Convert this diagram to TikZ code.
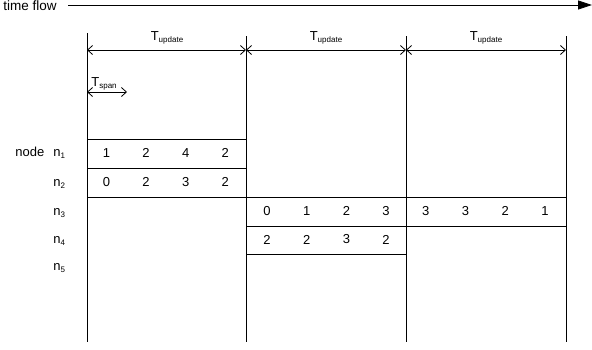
\documentclass[tikz,border=0pt]{standalone}
\usepackage{fontspec}
\setmainfont{Liberation Sans}
\usetikzlibrary{arrows.meta}
\newcommand{\mysub}[1]{\raisebox{-2.2pt}{\fontsize{8}{9}\selectfont #1}}
\begin{document}
\begin{tikzpicture}[x=1pt,y=-1pt,line width=0.8pt,
  barb/.style={Straight Barb[length=5pt,width=9pt]},
  txt/.style={font=\fontsize{13}{15}\selectfont,inner sep=0pt},
  lbl/.style={txt,anchor=base west},
  num/.style={txt,anchor=center},
  cell/.style={draw,line width=0.8pt}]
\useasboundingbox (0,0) rectangle (592,349);
% time flow
\node[font=\fontsize{13.5}{16}\selectfont,inner sep=0pt,anchor=base west] (tf) at (3,10) {time flow};
\coordinate (tfs) at (68,5);
\coordinate (tfe) at (592,5);
\draw[-{Triangle[length=14pt,width=9pt]}] (tfs) -- (tfe);
% vertical lines
\coordinate (v1t) at (87,33);  \coordinate (v1b) at (87,342);
\coordinate (v2t) at (246,36); \coordinate (v2b) at (246,342);
\coordinate (v3t) at (406,36); \coordinate (v3b) at (406,342);
\coordinate (v4t) at (566,36); \coordinate (v4b) at (566,342);
\draw (v1t) -- (v1b);
\draw (v2t) -- (v2b);
\draw (v3t) -- (v3b);
\draw (v4t) -- (v4b);
% T update arrows
\coordinate (a1) at (87,50); \coordinate (a2) at (246,50);
\coordinate (a3) at (406,50); \coordinate (a4) at (566,50);
\draw[{Straight Barb[length=5pt,width=9pt]}-{Straight Barb[length=5pt,width=9pt]}] (a1) -- (a2);
\draw[{Straight Barb[length=5pt,width=9pt]}-{Straight Barb[length=5pt,width=9pt]}] (a2) -- (a3);
\draw[{Straight Barb[length=5pt,width=9pt]}-{Straight Barb[length=5pt,width=9pt]}] (a3) -- (a4);
\node[txt,anchor=base] (tu1) at (167,40) {T\mysub{update}};
\node[txt,anchor=base] (tu2) at (326,40) {T\mysub{update}};
\node[txt,anchor=base] (tu3) at (486,40) {T\mysub{update}};
% T span
\coordinate (s1) at (87,92); \coordinate (s2) at (127,92);
\draw[{Straight Barb[length=5pt,width=9pt]}-{Straight Barb[length=5pt,width=9pt]}] (s1) -- (s2);
\node[txt,anchor=base west] (tsp) at (91,86) {T\mysub{span}};
% row labels
\node[lbl] (nodelbl) at (15,156.7) {node};
\node[lbl] (n1) at (53,156.7) {n\mysub{1}};
\node[lbl] (n2) at (53,186) {n\mysub{2}};
\node[lbl] (n3) at (53,215) {n\mysub{3}};
\node[lbl] (n4) at (53,243) {n\mysub{4}};
\node[lbl] (n5) at (53,270) {n\mysub{5}};
% boxes
\draw[cell] (87,139) rectangle (246,168);
\draw[cell] (87,168) rectangle (246,197);
\draw[cell] (246,197) rectangle (566,226);
\draw[cell] (246,226) rectangle (406,254);
% numbers
\foreach \v [count=\i from 0] in {1,2,4,2}
  \node[num] (r1c\i) at (106.5+39.6*\i,153) {\v};
\foreach \v [count=\i from 0] in {0,2,3,2}
  \node[num] (r2c\i) at (106.5+39.6*\i,182.3) {\v};
\foreach \v [count=\i from 0] in {0,1,2,3,3,3,2,1}
  \node[num] (r3c\i) at (267+39.7*\i,211) {\v};
\foreach \v [count=\i from 0] in {2,2,3,2}
  \node[num] (r4c\i) at (267+39.7*\i,239.5) {\v};
\end{tikzpicture}
\end{document}
